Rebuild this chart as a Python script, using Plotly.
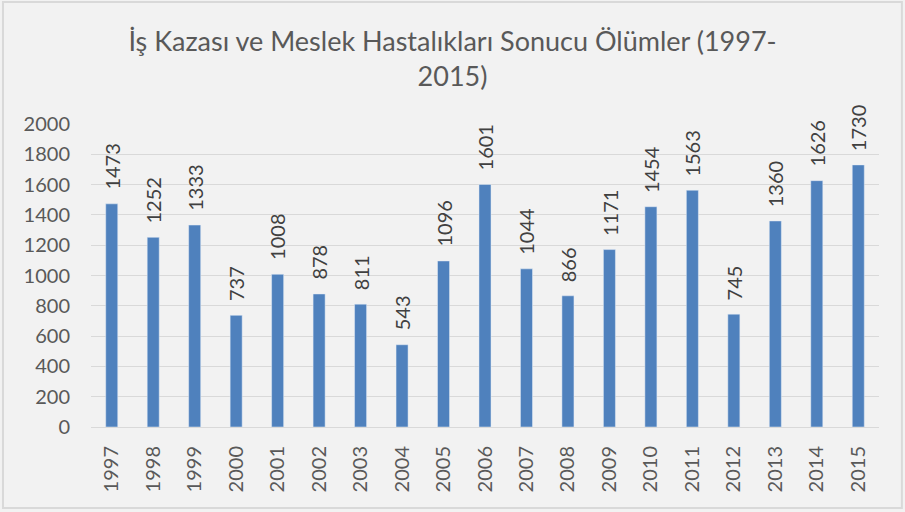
import plotly.graph_objects as go

# data
years = [str(y) for y in range(1997, 2016)]
deaths = [1473, 1252, 1333, 737, 1008, 878, 811, 543, 1096, 1601,
          1044, 866, 1171, 1454, 1563, 745, 1360, 1626, 1730]
y_ticks = list(range(0, 2001, 200))

title_text = "İş Kazası ve Meslek Hastalıkları Sonucu Ölümler (1997-<br>2015)"

fig = go.Figure()
fig.add_trace(go.Bar(
    x=years, y=deaths,
    marker=dict(color="#4F81BD"),
    cliponaxis=False,
))

# value labels above bars, rotated (x given as category index)
for i, v in enumerate(deaths):
    fig.add_annotation(
        x=i, y=v, xref="x", yref="y",
        text=str(v), showarrow=False, textangle=-90,
        xanchor="center", yanchor="bottom", yshift=12,
        font=dict(family="Lato", size=20, color="#404040"),
    )

fig.update_layout(
    width=905, height=512,
    paper_bgcolor="#F2F2F2",
    plot_bgcolor="#F2F2F2",
    margin=dict(l=91, r=26, t=124, b=85),
    bargap=0.71,
    showlegend=False,
    title=dict(text=title_text, x=0.5, xanchor="center", y=0.90, yanchor="top",
               font=dict(family="Lato", size=27, color="#595959")),
    font=dict(family="Lato", color="#595959"),
)

fig.update_xaxes(
    type="category",
    tickangle=-90,
    tickfont=dict(family="Lato", size=20, color="#595959"),
    showgrid=False,
    showline=True, linecolor="#D9D9D9", linewidth=1,
    ticks="", ticklabelstandoff=10,
    automargin=False,
)
fig.update_yaxes(
    range=[0, 2000],
    tickvals=y_ticks,
    tickfont=dict(family="Lato", size=20, color="#595959"),
    showgrid=True, gridcolor="#D9D9D9", gridwidth=1,
    zeroline=False, showline=False, ticks="",
    ticklabelstandoff=20,
    automargin=False,
)

# outer chart border
fig.add_shape(type="rect", xref="paper", yref="paper",
              x0=-0.1117, x1=1.029, y0=-0.267, y1=1.403,
              line=dict(color="#D9D9D9", width=2), layer="below")

fig.write_html("out.html",
               config={"displayModeBar": False},
               post_script="document.body.style.margin='0';document.body.style.padding='0';")
